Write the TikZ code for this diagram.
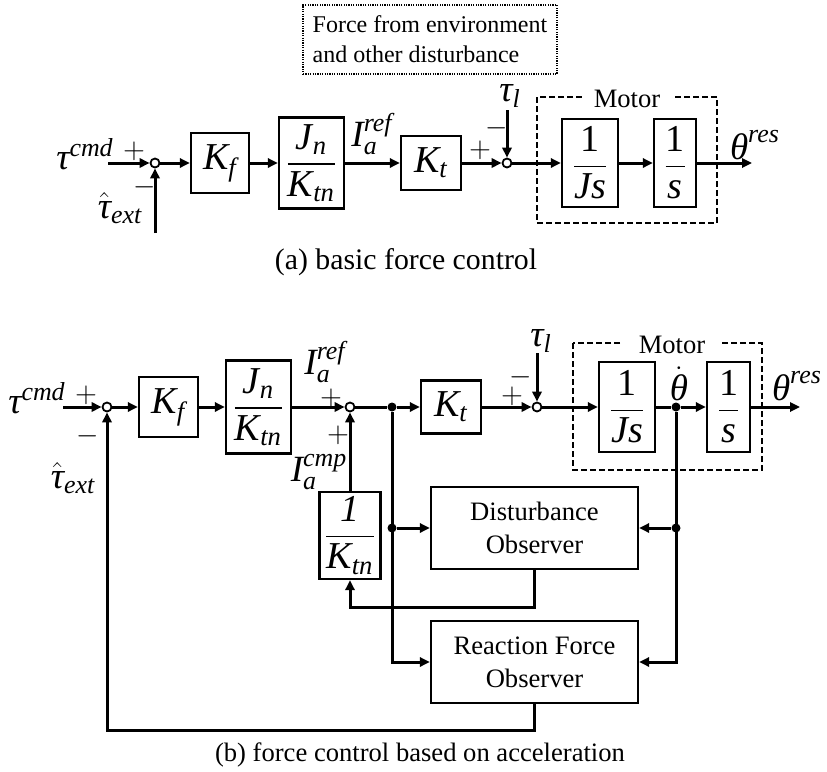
\documentclass[tikz,border=0pt]{standalone}
\usepackage{amsmath}
\usepackage{fontspec}
\setmainfont{Liberation Serif}
\usetikzlibrary{arrows.meta}
\newcommand{\mv}[1]{\textit{#1}}

\begin{document}
\begin{tikzpicture}[x=0.5pt,y=-0.5pt,
  blk/.style={draw,line width=1.2pt,inner sep=1pt,font=\fontsize{19}{22}\selectfont},
  sumpt/.style={circle,draw,line width=0.9pt,fill=white,minimum size=4.5pt,inner sep=0pt},
  jpt/.style={circle,fill,minimum size=4.5pt,inner sep=0pt},
  sig/.style={line width=1.5pt,-{Triangle[length=5pt,width=4.6pt]}},
  wire/.style={line width=1.5pt},
  mlbl/.style={font=\fontsize{18.5}{22}\selectfont,inner sep=0pt},
  sgn/.style={font=\fontsize{15}{18}\selectfont,inner sep=0pt},
  obs/.style={draw,line width=1.2pt,align=center,minimum width=103.5pt,minimum height=41pt,font=\fontsize{13.3}{16.5}\selectfont},
  motor/.style={draw,line width=1pt,dash pattern=on 3pt off 1.5pt},
  motlbl/.style={fill=white,inner xsep=6pt,inner ysep=1pt,font=\fontsize{13.3}{16}\selectfont}
]
  \useasboundingbox (0,0) rectangle (827,772);

  % (a) Stoerung
  \node[draw,line width=1pt,dash pattern=on 0.6pt off 0.6pt,minimum width=127pt,minimum height=34.5pt,
        align=left,font=\fontsize{12}{15}\selectfont] (envA) at (430,39.5)
        {Force from environment\\and other disturbance};

  % (a) Bloecke
  \node[mlbl] (tcmdA) at (85,154) {$\mv{τ}^{\mv{cmd}}$};
  \coordinate (inA) at (108,163);
  \node[sumpt] (sumA1) at (155,163) {};
  \node[sgn] (pA1) at (134,151) {$+$};
  \node[sgn] (mA1) at (145,187) {$-$};
  \node[mlbl] (textA) at (120,208) {$\hat{\mv{τ}}_{\mv{ext}}$};
  \coordinate (extA) at (155,233);
  \node[blk,minimum width=29pt,minimum height=30pt] (KfA) at (220,163) {$\mv{K}_{\mv{f}}$};
  \node[blk,minimum width=32.5pt,minimum height=45.5pt] (JnA) at (311.5,163)
        {$\dfrac{\mv{J}_{\mv{n}}}{\mv{K}_{\mv{tn}}}$};
  \node[mlbl] (IrefA) at (372,134) {$\mv{I}_{\mv{a}}^{\mv{ref}}$};
  \node[blk,minimum width=30pt,minimum height=27pt] (KtA) at (431,163) {$\mv{K}_{\mv{t}}$};
  \node[sgn] (pA2) at (480,150) {$+$};
  \node[sgn] (mA2) at (497,128) {$-$};
  \node[sumpt] (sumA2) at (507,163) {};
  \node[mlbl] (tlA) at (510,96) {$\mv{τ}_{\mv{l}}$};
  \coordinate (tlinA) at (507,110);
  \draw[motor] (537,97) rectangle (717,223);
  \node[motlbl] (motA) at (627,99) {Motor};
  \node[blk,minimum width=28pt,minimum height=44pt] (JsA) at (590,163)
        {$\dfrac{\textrm{1}}{\mv{Js}}$};
  \node[blk,minimum width=21pt,minimum height=44pt] (sA) at (675,163)
        {$\dfrac{\textrm{1}}{\mv{s}}$};
  \coordinate (outA) at (752,163);
  \node[mlbl] (thA) at (755,145) {$\mv{θ}^{\mv{res}}$};

  % (a) Verbindungen
  \draw[sig] (inA) -- (sumA1);
  \draw[sig] (extA) -- (sumA1);
  \draw[sig] (sumA1) -- (KfA);
  \draw[sig] (KfA) -- (JnA);
  \draw[sig] (JnA) -- (KtA);
  \draw[sig] (KtA) -- (sumA2);
  \draw[sig] (tlinA) -- (sumA2);
  \draw[sig] (sumA2) -- (JsA);
  \draw[sig] (JsA) -- (sA);
  \draw[sig] (sA) -- (outA);

  \node[font=\fontsize{14.9}{18}\selectfont] (capA) at (406,262) {(a) basic force control};

  % (b) Bloecke
  \node[mlbl] (tcmdB) at (37,398) {$\mv{τ}^{\mv{cmd}}$};
  \coordinate (inB) at (63,407);
  \node[sgn] (pB1) at (86,395) {$+$};
  \node[sumpt] (sumB1) at (107,407) {};
  \node[sgn] (mB1) at (88,436) {$-$};
  \node[mlbl] (textB) at (73,478) {$\hat{\mv{τ}}_{\mv{ext}}$};
  \node[blk,minimum width=29.5pt,minimum height=30pt] (KfB) at (168.5,407) {$\mv{K}_{\mv{f}}$};
  \node[blk,minimum width=32.5pt,minimum height=46.5pt] (JnB) at (258.5,407)
        {$\dfrac{\mv{J}_{\mv{n}}}{\mv{K}_{\mv{tn}}}$};
  \node[mlbl] (IrefB) at (325,362) {$\mv{I}_{\mv{a}}^{\mv{ref}}$};
  \node[sgn] (pB2) at (331,398) {$+$};
  \node[sumpt] (sumB2) at (350,407) {};
  \node[sgn] (pB3) at (338,435) {$+$};
  \node[mlbl] (IcmpB) at (319,472) {$\mv{I}_{\mv{a}}^{\mv{cmp}}$};
  \node[blk,minimum width=30.5pt,minimum height=43.5pt] (KtnB) at (350,535.5)
        {$\dfrac{\mv{1}}{\mv{K}_{\mv{tn}}}$};
  \node[jpt] (dB1) at (392,407) {};
  \node[blk,minimum width=30pt,minimum height=26.5pt] (KtB) at (451,407) {$\mv{K}_{\mv{t}}$};
  \node[sgn] (pB4) at (512,396) {$+$};
  \node[sgn] (mB4) at (521,377) {$-$};
  \node[sumpt] (sumB3) at (537,407) {};
  \node[mlbl] (tlB) at (541,341) {$\mv{τ}_{\mv{l}}$};
  \coordinate (tlinB) at (537,353);
  \draw[motor] (573,343) rectangle (762,470);
  \node[motlbl,inner xsep=8pt] (motB) at (672,345) {Motor};
  \node[blk,minimum width=28pt,minimum height=45pt] (JsB) at (627,407)
        {$\dfrac{\textrm{1}}{\mv{Js}}$};
  \node[jpt] (dTh) at (676,407) {};
  \node[mlbl] (thdB) at (679,384) {$\dot{\mv{θ}}$};
  \node[blk,minimum width=21.5pt,minimum height=45pt] (sB) at (728.5,407)
        {$\dfrac{\textrm{1}}{\mv{s}}$};
  \coordinate (outB) at (800,407);
  \node[mlbl] (thB) at (797,386) {$\mv{θ}^{\mv{res}}$};
  \node[obs] (DOB) at (534.5,528) {Disturbance\\Observer};
  \node[obs] (RFOB) at (534.5,662) {Reaction Force\\Observer};
  \node[jpt] (dB2) at (dB1 |- DOB.west) {};
  \node[jpt] (dR) at (dTh |- DOB.east) {};

  % (b) Verbindungen
  \draw[sig] (inB) -- (sumB1);
  \draw[sig] (sumB1) -- (KfB);
  \draw[sig] (KfB) -- (JnB);
  \draw[sig] (JnB) -- (sumB2);
  \draw[wire] (sumB2) -- (dB1);
  \draw[sig] (dB1) -- (KtB);
  \draw[sig] (KtB) -- (sumB3);
  \draw[sig] (tlinB) -- (sumB3);
  \draw[sig] (sumB3) -- (JsB);
  \draw[wire] (JsB) -- (dTh);
  \draw[sig] (dTh) -- (sB);
  \draw[sig] (sB) -- (outB);
  \draw[sig] (KtnB) -- (sumB2);
  \draw[sig] (dB1) |- (RFOB.west);
  \draw[sig] (dB2) -- (DOB.west);
  \draw[sig] (dTh) |- (RFOB.east);
  \draw[sig] (dR) -- (DOB.east);
  \draw[sig] (DOB.south) -- (DOB.south |- 0,607) -| (KtnB.south);
  \draw[sig] (RFOB.south) -- (RFOB.south |- 0,730) -| (sumB1);

  \node[font=\fontsize{13.3}{16}\selectfont] (capB) at (420,755) {(b) force control based on acceleration};
\end{tikzpicture}
\end{document}
